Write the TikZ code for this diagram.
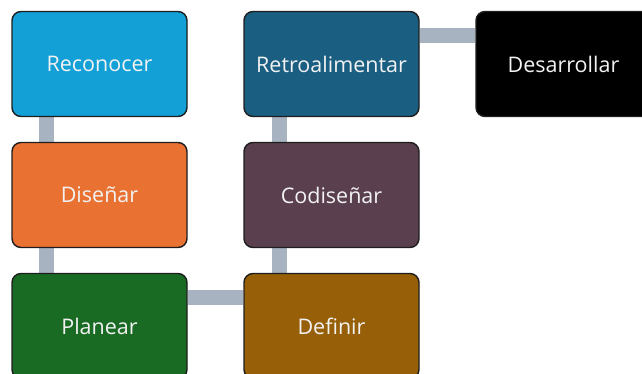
\documentclass[tikz,border=0pt]{standalone}
\usepackage{fontspec}
\setmainfont{Open Sans}
\usetikzlibrary{positioning, backgrounds}
\definecolor{recblue}{HTML}{12A0D7}
\definecolor{retblue}{HTML}{1A5E82}
\definecolor{desblack}{HTML}{000000}
\definecolor{disorange}{HTML}{E97132}
\definecolor{codplum}{HTML}{5A3F4E}
\definecolor{plagreen}{HTML}{196B24}
\definecolor{defbrown}{HTML}{965F08}
\definecolor{linkgray}{HTML}{A7B3C1}
\definecolor{edgedark}{HTML}{1E1E1E}
\definecolor{labelwhite}{HTML}{F2F2F2}

\begin{document}
\begin{tikzpicture}[
    x=1pt, y=-1pt,
    node distance=24.6pt and 55.6pt,
    stage/.style={rectangle, rounded corners=9pt, draw=edgedark, line width=1.4pt, minimum width=175pt, minimum height=105pt, text=labelwhite, font=\fontsize{21.5}{25}\selectfont},
    link/.style={linkgray, line width=15pt}
]
\useasboundingbox (0,0) rectangle (642,374);
\clip (0,0) rectangle (642,374);

% Nodes
\node[stage, fill=recblue] (rec) at (99.5,64) {Reconocer};
\node[stage, fill=disorange, below=of rec] (dis) {Diseñar};
\node[stage, fill=plagreen, below=of dis] (pla) {Planear};
\node[stage, fill=defbrown, right=of pla] (def) {Definir};
\node[stage, fill=codplum, above=of def] (cod) {Codiseñar};
\node[stage, fill=retblue, above=of cod] (ret) {Retroalimentar};
\node[stage, fill=desblack, right=of ret] (des) {Desarrollar};

% Links
\begin{scope}[on background layer]
\draw[link] ([xshift=35pt]rec.south west) -- ([xshift=35pt]dis.north west);
\draw[link] ([xshift=35pt]dis.south west) -- ([xshift=35pt]pla.north west);
\draw[link] ([yshift=-25pt]pla.north east) -- ([yshift=-25pt]def.north west);
\draw[link] ([xshift=36pt]def.north west) -- ([xshift=36pt]cod.south west);
\draw[link] ([xshift=36pt]cod.north west) -- ([xshift=36pt]ret.south west);
\draw[link] ([yshift=-25pt]ret.north east) -- ([yshift=-25pt]des.north west);
\end{scope}

\end{tikzpicture}
\end{document}
